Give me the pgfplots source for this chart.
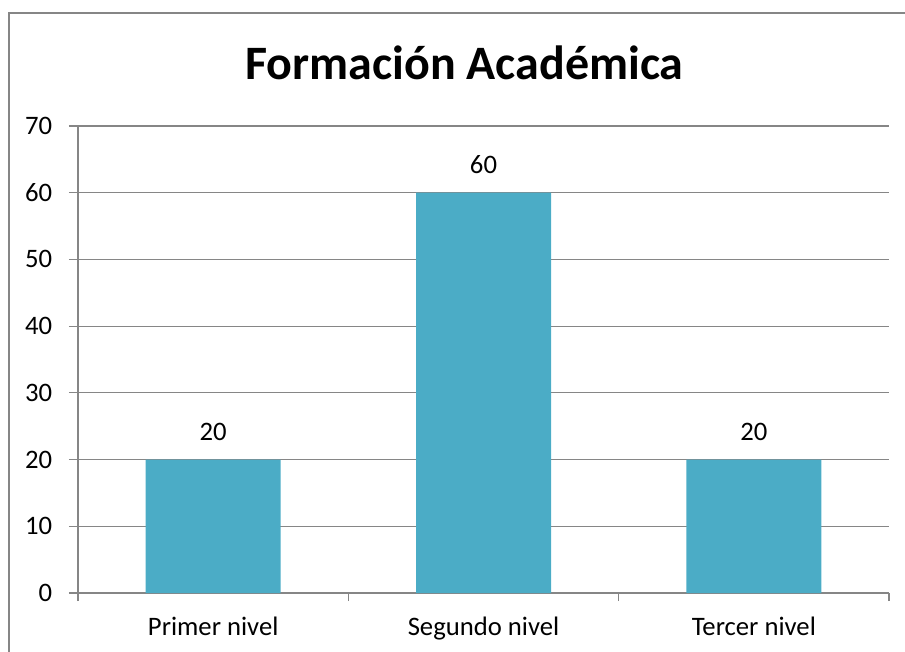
\documentclass[border=0pt]{standalone}
\usepackage{pgfplots}
\pgfplotsset{compat=1.18}
\usepackage{fontspec}
\setmainfont{Carlito}
\definecolor{barblue}{HTML}{4BACC6}
\definecolor{gridgray}{HTML}{868686}
\begin{document}
\begin{tikzpicture}[x=0.75pt,y=0.75pt]
% page area and outer frame of the chart
\path[use as bounding box] (0,0) rectangle (905,651);
\draw[gridgray, line width=1.1pt] (9,-20) -- (9,638) -- (930,638);
% title
\node[anchor=base, font=\fontsize{36}{42}\selectfont\bfseries, inner sep=0pt]
  at (464.5,571) {Formación Académica};
\begin{axis}[
  at={(58.5pt,43.5pt)}, anchor=south west,
  scale only axis,
  width=608.25pt, height=350.25pt,
  xmin=-0.5, xmax=2.5,
  ymin=0, ymax=70,
  ytick={0,10,...,70},
  xtick={0,1,2},
  xticklabels={Primer nivel, Segundo nivel, Tercer nivel},
  minor xtick={-0.5,0.5,1.5,2.5},
  x tick style={draw=none},
  minor x tick style={draw=gridgray, line width=0.8pt},
  y tick style={draw=gridgray, line width=0.8pt},
  tick align=outside,
  major tick length=6.75pt,
  minor tick length=6pt,
  axis x line*=bottom,
  axis y line*=left,
  axis line style={draw=gridgray, line width=0.8pt, -},
  ymajorgrids,
  grid style={draw=gridgray, line width=0.8pt},
  /pgf/number format/assume math mode=true,
  ticklabel style={font=\fontsize{20}{24}\selectfont},
  yticklabel style={anchor=east, inner sep=0pt, xshift=-12.5pt},
  xticklabel style={anchor=base, inner sep=0pt, yshift=-25pt},
  ybar, bar width=101.25pt,
  bar shift=0pt,
  nodes near coords,
  every node near coord/.append style={font=\fontsize{20}{24}\selectfont, anchor=base, inner sep=0pt, yshift=14.25pt},
  clip=false,
]
\addplot[fill=barblue, draw=none] coordinates {(0,20) (1,60) (2,20)};
\end{axis}
\end{tikzpicture}
\end{document}
